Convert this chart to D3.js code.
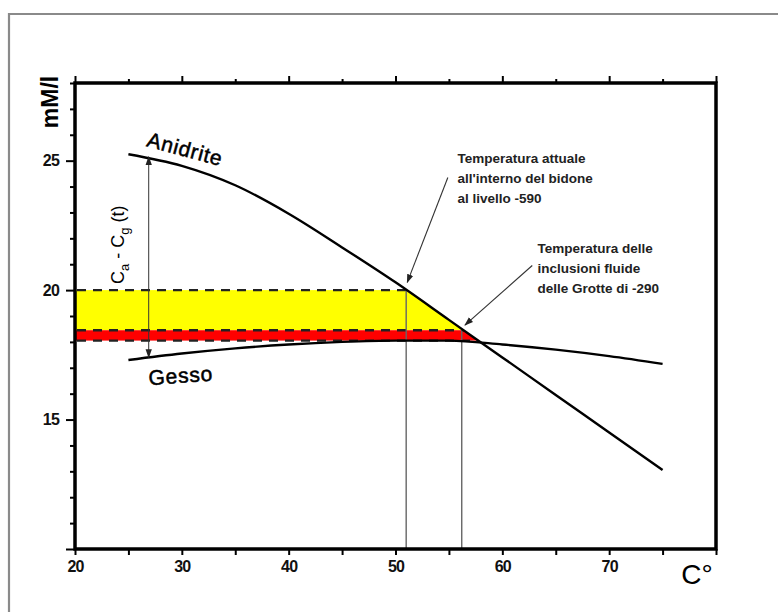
<!DOCTYPE html>
<html>
<head>
<meta charset="utf-8">
<script src="https://cdn.jsdelivr.net/npm/d3@7"></script>
<style>
  body { margin: 0; background: #fff; }
  svg text { font-family: "Liberation Sans", Arial, sans-serif; }
</style>
</head>
<body>
<svg width="778" height="612"></svg>
<script>
// curves (temperature °C -> mM/l)
var anidriteT = [25, 30, 35, 40, 45, 50, 55, 60, 65, 70, 75];
var anidriteC = [25.25, 24.8, 24.05, 22.95, 21.65, 20.3, 18.85, 17.4, 15.95, 14.5, 13.05];
var gessoT = [25, 30, 35, 40, 45, 50, 55, 60, 65, 70, 75];
var gessoC = [17.3, 17.55, 17.75, 17.9, 18.0, 18.05, 18.05, 17.9, 17.7, 17.45, 17.15];

// dashed levels (top of yellow, top of red, bottom of red)
var bandLevels = [20, 18.45, 18.05];
// vertical temperature markers and the level they start from
var tempLines = [51, 56.2];
var tempLevels = [20, 18.45];
// Ca - Cg double arrow: temperature, from, to
var capArrow = [26.9, 25.15, 17.4];

var xLabels = [20, 30, 40, 50, 60, 70];
var yLabels = [15, 20, 25];

var notes = [
  {lines: ["Temperatura attuale", "all'interno del bidone", "al livello -590"], t: 55.8, c: 24.9, from: [54.9, 24.35], to: [51.1, 20.3]},
  {lines: ["Temperatura delle", "inclusioni fluide", "delle Grotte di -290"], t: 63.3, c: 21.45, from: [62.8, 20.95], to: [56.5, 18.65]}
];

var svg = d3.select("svg");

var x = d3.scaleLinear().domain([20, 80]).range([75, 716]);
var y = d3.scaleLinear().domain([10, 28]).range([549, 83]);

var anidrite = anidriteT.map(function(t, i) { return [t, anidriteC[i]]; });
var gesso = gessoT.map(function(t, i) { return [t, gessoC[i]]; });

var line = d3.line()
    .x(function(d) { return x(d[0]); })
    .y(function(d) { return y(d[1]); })
    .curve(d3.curveMonotoneX);

// outer grey frame
svg.append("path")
    .attr("d", "M9,612 L9,14 L778,14")
    .attr("fill", "none")
    .attr("stroke", "#8a8a8a")
    .attr("stroke-width", 2.2);

var defs = svg.append("defs");

// clip = everything below the Anidrite curve
var clip = defs.append("clipPath").attr("id", "under-anidrite");
clip.append("path")
    .attr("d", d3.area()
        .x(function(d) { return x(d[0]); })
        .y0(y(10))
        .y1(function(d) { return y(d[1]); })
        .curve(d3.curveMonotoneX)(anidrite));
clip.append("rect")
    .attr("x", x(20)).attr("y", y(28))
    .attr("width", x(anidriteT[0]) - x(20) + 1)
    .attr("height", y(10) - y(28));

defs.append("marker")
    .attr("id", "head")
    .attr("viewBox", "0 0 10 10")
    .attr("refX", 9).attr("refY", 5)
    .attr("markerWidth", 9).attr("markerHeight", 9)
    .attr("markerUnits", "userSpaceOnUse")
    .attr("orient", "auto-start-reverse")
  .append("path")
    .attr("d", "M0,1.5 L10,5 L0,8.5 z")
    .attr("fill", "#222");

// coloured bands
var bands = svg.append("g").attr("clip-path", "url(#under-anidrite)");
bands.append("rect")
    .attr("x", x(20)).attr("y", y(bandLevels[0]))
    .attr("width", x(65) - x(20))
    .attr("height", y(bandLevels[1]) - y(bandLevels[0]))
    .attr("fill", "#ffff00");
bands.append("rect")
    .attr("x", x(20)).attr("y", y(bandLevels[1]))
    .attr("width", x(65) - x(20))
    .attr("height", y(bandLevels[2]) - y(bandLevels[1]))
    .attr("fill", "#ff0000");
bands.selectAll("line.dash")
    .data(bandLevels)
  .enter().append("line")
    .attr("class", "dash")
    .attr("x1", x(20) + 2).attr("x2", x(65))
    .attr("y1", function(d) { return y(d); })
    .attr("y2", function(d) { return y(d); })
    .attr("stroke", "#222")
    .attr("stroke-width", 2.4)
    .attr("stroke-dasharray", "9,7");

// vertical temperature lines
svg.selectAll("line.temp")
    .data(tempLines)
  .enter().append("line")
    .attr("class", "temp")
    .attr("x1", function(d) { return x(d); })
    .attr("x2", function(d) { return x(d); })
    .attr("y1", function(d, i) { return y(tempLevels[i]); })
    .attr("y2", y(10))
    .attr("stroke", "#666")
    .attr("stroke-width", 1.4);

// curves
svg.append("path").datum(anidrite)
    .attr("d", line).attr("fill", "none")
    .attr("stroke", "#000").attr("stroke-width", 2.4);
svg.append("path").datum(gesso)
    .attr("d", line).attr("fill", "none")
    .attr("stroke", "#000").attr("stroke-width", 2.4);

// Ca - Cg double arrow
svg.append("line")
    .attr("x1", x(capArrow[0])).attr("x2", x(capArrow[0]))
    .attr("y1", y(capArrow[1])).attr("y2", y(capArrow[2]))
    .attr("stroke", "#333").attr("stroke-width", 1)
    .attr("marker-start", "url(#head)")
    .attr("marker-end", "url(#head)");

var capLabel = svg.append("text")
    .attr("transform", "translate(" + (x(24.0) + 6) + "," + y(21.75) + ") rotate(-90)")
    .attr("text-anchor", "middle")
    .attr("font-size", 18);
capLabel.append("tspan").text("C");
capLabel.append("tspan").attr("dy", 5).attr("font-size", 13).text("a");
capLabel.append("tspan").attr("dy", -5).text(" - C");
capLabel.append("tspan").attr("dy", 5).attr("font-size", 13).text("g");
capLabel.append("tspan").attr("dy", -5).text(" (t)");

// curve names
svg.append("text")
    .attr("transform", "translate(" + x(30.3) + "," + y(25.45) + ") rotate(15)")
    .attr("text-anchor", "middle")
    .attr("font-size", 21).attr("letter-spacing", 0.8)
    .attr("stroke", "#000").attr("stroke-width", 0.5)
    .attr("dy", "0.35em")
    .text("Anidrite");
svg.append("text")
    .attr("transform", "translate(" + x(29.9) + "," + y(16.7) + ") rotate(-4)")
    .attr("text-anchor", "middle")
    .attr("font-size", 21).attr("letter-spacing", 0.8)
    .attr("stroke", "#000").attr("stroke-width", 0.5)
    .attr("dy", "0.35em")
    .text("Gesso");

// annotations
notes.forEach(function(n) {
  var t = svg.append("text")
      .attr("x", x(n.t)).attr("y", y(n.c))
      .attr("font-size", 13.5).attr("font-weight", "bold")
      .attr("fill", "#222");
  n.lines.forEach(function(s, i) {
    t.append("tspan").attr("x", x(n.t)).attr("dy", i ? 20 : 0).text(s);
  });
  svg.append("line")
      .attr("x1", x(n.from[0])).attr("y1", y(n.from[1]))
      .attr("x2", x(n.to[0])).attr("y2", y(n.to[1]))
      .attr("stroke", "#333").attr("stroke-width", 1.1)
      .attr("marker-end", "url(#head)");
});

// axes
var bottomAxis = svg.append("g")
    .attr("transform", "translate(0," + y(10) + ")")
    .call(d3.axisBottom(x).tickValues(d3.range(20, 81, 5)).tickSize(6).tickSizeOuter(0)
      .tickFormat(function(d) { return xLabels.indexOf(d) >= 0 ? d : ""; }));
var topAxis = svg.append("g")
    .attr("transform", "translate(0," + y(28) + ")")
    .call(d3.axisTop(x).tickValues(d3.range(20, 81, 5)).tickSize(7).tickSizeOuter(0).tickFormat(""));
topAxis.selectAll(".tick line").attr("y2", function(d) { return d % 10 === 0 ? -7 : -4; });
var leftAxis = svg.append("g")
    .attr("transform", "translate(" + x(20) + ",0)")
    .call(d3.axisLeft(y).tickValues(d3.range(10, 29, 1)).tickSize(5).tickSizeOuter(0)
      .tickPadding(11)
      .tickFormat(function(d) { return yLabels.indexOf(d) >= 0 ? d : ""; }));
leftAxis.selectAll(".tick line").attr("x2", function(d) { return d % 5 === 0 ? -9 : -5; });

[bottomAxis, topAxis, leftAxis].forEach(function(g) {
  g.select(".domain").remove();
  g.selectAll(".tick line").attr("stroke", "#000").attr("stroke-width", 2);
  g.selectAll("text")
      .attr("font-family", "Liberation Sans, Arial, sans-serif")
      .attr("font-size", 16).attr("font-weight", "bold")
      .attr("letter-spacing", -0.8)
      .attr("fill", "#111");
});
bottomAxis.selectAll("text").attr("dy", "0.9em");

// plot frame
svg.append("rect")
    .attr("x", x(20)).attr("y", y(28))
    .attr("width", x(80) - x(20)).attr("height", y(10) - y(28))
    .attr("fill", "none").attr("stroke", "#000").attr("stroke-width", 3.5);

// axis titles
svg.append("text")
    .attr("transform", "translate(58,102) rotate(-90)")
    .attr("text-anchor", "middle")
    .attr("font-size", 23).attr("font-weight", "bold")
    .text("mM/l");
svg.append("text")
    .attr("x", 697).attr("y", 584)
    .attr("text-anchor", "middle")
    .attr("font-size", 28)
    .text("C°");
</script>
</body>
</html>
